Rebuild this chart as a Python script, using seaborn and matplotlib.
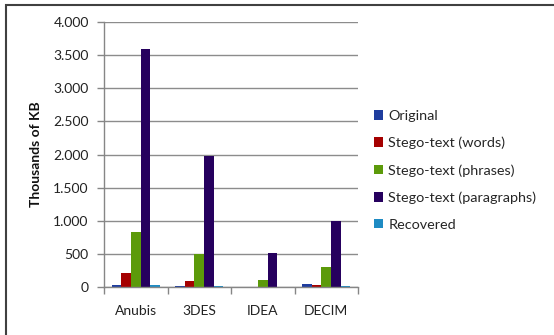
import matplotlib
matplotlib.use("Agg")
import matplotlib.pyplot as plt
import matplotlib.ticker as mticker
from matplotlib.patches import Rectangle, Patch
import seaborn as sns
import pandas as pd

categories = ["Anubis", "3DES", "IDEA", "DECIM"]
series_names = ["Original", "Stego-text (words)", "Stego-text (phrases)",
                "Stego-text (paragraphs)", "Recovered"]
original = [35, 12, 0, 45]
words = [212, 86, 0, 32]
phrases = [828, 497, 101, 303]
paragraphs = [3590, 1978, 509, 998]
recovered = [25, 10, 0, 12]
colors = ["#1F3D9E", "#A50000", "#5C9A0A", "#26005E", "#1E8BC3"]
yticks = [0, 500, 1000, 1500, 2000, 2500, 3000, 3500, 4000]
ytick_labels = ["0", "500", "1.000", "1.500", "2.000", "2.500", "3.000", "3.500", "4.000"]

rows = []
for name, vals in zip(series_names, [original, words, phrases, paragraphs, recovered]):
    for c, v in zip(categories, vals):
        rows.append({"cat": c, "series": name, "value": v})
df = pd.DataFrame(rows)

sns.set_theme(style="white")
plt.rcParams["font.family"] = ["Lato", "DejaVu Sans"]

W, H = 554, 335
fig = plt.figure(figsize=(W / 100, H / 100), dpi=100)
ax = fig.add_axes([104 / W, 1 - 287 / H, (358 - 104) / W, (287 - 22) / H])

sns.barplot(data=df, x="cat", y="value", hue="series", order=categories,
            hue_order=series_names, palette=colors, width=0.76, saturation=1,
            ax=ax, legend=False, linewidth=0)

fs = 10
ax.set_ylim(0, 4000)
ax.set_xlim(-0.5, 3.5)
ax.set_yticks(yticks)
ax.set_yticklabels(ytick_labels, fontsize=fs, color="#222222")
ax.yaxis.grid(True, color="#8c8c8c", linewidth=1)
ax.set_axisbelow(True)
ax.set_xlabel("")
ax.set_ylabel("Thousands of KB", fontsize=fs, fontweight="bold", labelpad=8, color="#111111")
ax.tick_params(axis="x", which="major", length=0, pad=13, labelsize=fs, labelcolor="#222222")
ax.set_xticks(range(len(categories)))
ax.set_xticklabels(categories)
ax.xaxis.set_minor_locator(mticker.FixedLocator([-0.5, 0.5, 1.5, 2.5, 3.5]))
ax.tick_params(axis="x", which="minor", length=5, width=1, color="#868686", direction="out", bottom=True)
ax.tick_params(axis="y", length=5, width=1, color="#868686", direction="out", left=True, pad=6)
for s in ["top", "right"]:
    ax.spines[s].set_visible(False)
for s in ["left", "bottom"]:
    ax.spines[s].set_color("#868686")
    ax.spines[s].set_linewidth(1)

handles = [Patch(facecolor=c, edgecolor="none") for c in colors]
fig.legend(handles, series_names, loc="upper left", bbox_to_anchor=(374 / W, 1 - 110 / H),
           frameon=False, fontsize=10.4, handlelength=0.65, handleheight=0.65,
           handletextpad=0.35, labelspacing=1.02, borderaxespad=0, borderpad=0)

fig.patches.append(Rectangle((6 / W, -0.1), 2, (H - 5) / H + 0.1, transform=fig.transFigure,
                             fill=False, edgecolor="#404040", linewidth=1.5))

fig.savefig("out.png", dpi=100)
